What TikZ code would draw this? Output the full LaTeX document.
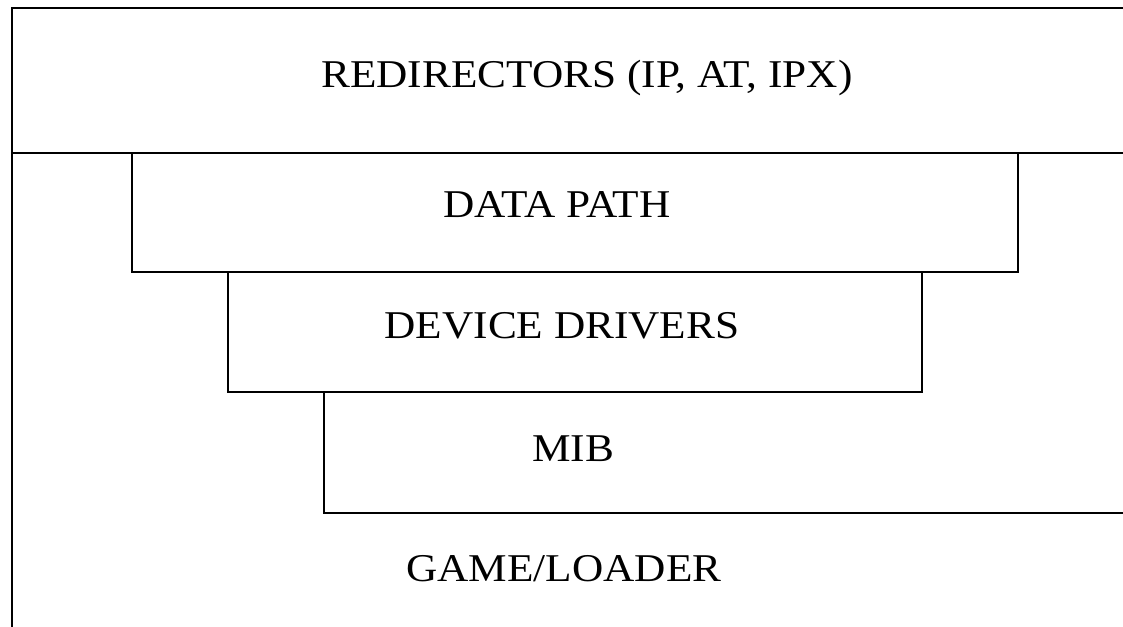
\documentclass[tikz,border=0pt]{standalone}
\usepackage{fontspec}
\setmainfont{Liberation Serif}[FakeStretch=1.1]
\usepackage{tikz}

\tikzset{
    layer/.style={anchor=base,font=\fontsize{11.2}{13}\selectfont},
    frame/.style={line width=0.65pt,black}
}

\begin{document}
\begin{tikzpicture}
        \useasboundingbox (0,0) rectangle (11.23,6.27);
        % outer frame and top band
        \draw[frame] (0.12,0)--(0.12,6.19)--(11.23,6.19);
        \draw[frame] (0.12,4.74)--(11.23,4.74);
        % stacked layers
        \draw[frame] (1.32,4.74)--(1.32,3.55)--(10.18,3.55)--(10.18,4.74);
        \draw[frame] (2.28,3.55)--(2.28,2.35)--(9.22,2.35)--(9.22,3.55);
        \draw[frame] (3.24,2.35)--(3.24,1.14)--(11.23,1.14);

        \node[layer] (redir) at (5.87,5.39){REDIRECTORS (IP, AT, IPX)};
        \node[layer] (datapath) at (5.57,4.09){DATA PATH};
        \node[layer] (drivers) at (5.62,2.88){DEVICE DRIVERS};
        \node[layer] (mib) at (5.73,1.65){MIB};
        \node[layer] (loader) at (5.64,0.45){GAME/LOADER};
    \end{tikzpicture}
\end{document}
